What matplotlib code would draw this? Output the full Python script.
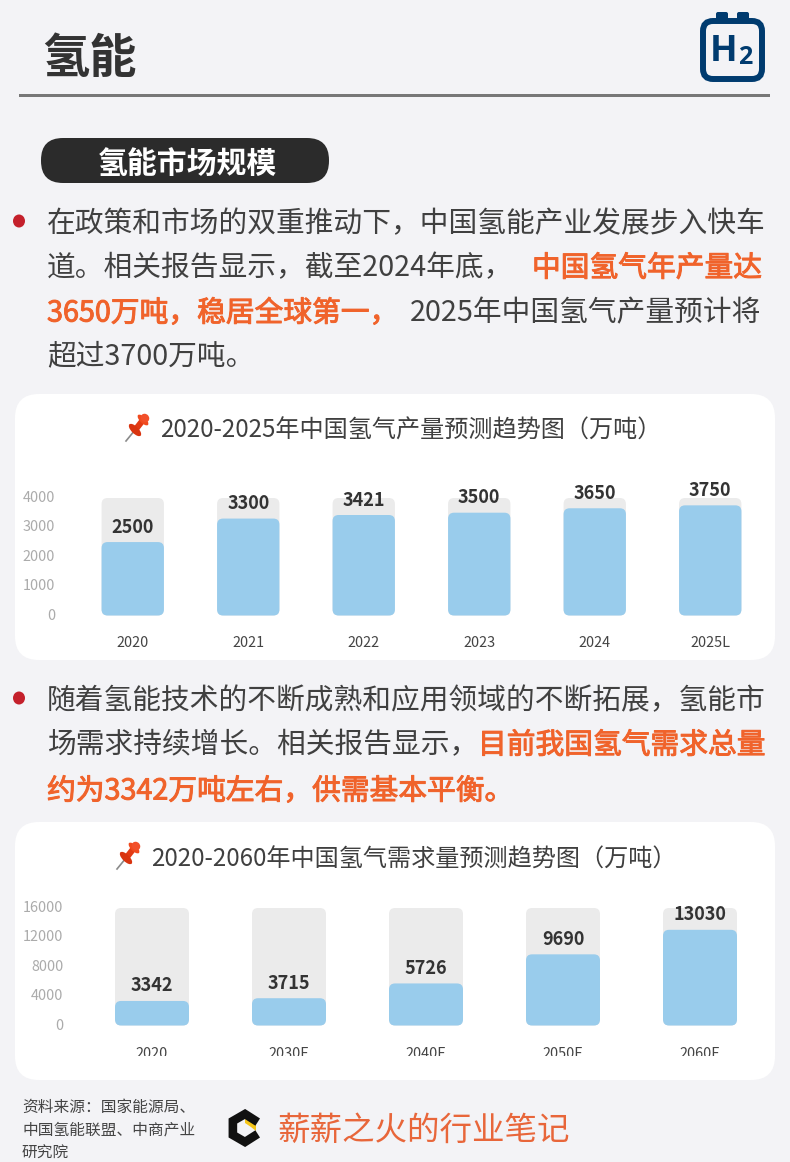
import matplotlib
matplotlib.use('Agg')
import matplotlib.pyplot as plt
from matplotlib.patches import FancyBboxPatch, Ellipse, Polygon, Rectangle
from matplotlib.transforms import Bbox, TransformedBbox, ScaledTranslation
import matplotlib.patheffects as pe
import numpy as np

plt.rcParams['font.family'] = ['Noto Sans CJK SC', 'DejaVu Sans']

# chart data
supply_years = ['2020', '2021', '2022', '2023', '2024', '2025L']
supply_values = [2500, 3300, 3421, 3500, 3650, 3750]
supply_ticks = [0, 1000, 2000, 3000, 4000]

demand_years = ['2020', '2030F', '2040F', '2050F', '2060F']
demand_values = [3342, 3715, 5726, 9690, 13030]
demand_ticks = [0, 4000, 8000, 12000, 16000]

supply_title = '2020-2025年中国氢气产量预测趋势图（万吨）'
demand_title = '2020-2060年中国氢气需求量预测趋势图（万吨）'

BG = '#F3F3F6'
DARK = '#404040'
ORANGE = '#F0632B'
BLUE = '#99CCEC'
GREY = '#EBEBEB'
NAVY = '#003B6F'
W, H = 790, 1162

fig = plt.figure(figsize=(W / 100, H / 100), dpi=100, facecolor=BG)

# whole page axes, units are pixels
page = fig.add_axes([0, 0, 1, 1])
page.set_xlim(0, W)
page.set_ylim(H, 0)
page.axis('off')


def card(x0, y0, x1, y1, r=24):
    page.add_patch(FancyBboxPatch((x0 + r, y0 + r), x1 - x0 - 2 * r, y1 - y0 - 2 * r,
                                  boxstyle='round,pad=%d,rounding_size=%d' % (r, r),
                                  fc='white', ec='none'))


def draw_pin(dx, dy):
    page.plot([126 + dx, 135 + dx], [441 + dy, 430 + dy], color='#8A8A8A', lw=1.2, zorder=3)
    page.plot([136 + dx, 143 + dx], [429 + dy, 420 + dy], color='#E23A14', lw=4.4,
              solid_capstyle='butt', zorder=3)
    page.add_patch(Ellipse((135 + dx, 430 + dy), 16, 7, angle=45, fc='#D9340F', ec='none', zorder=3))
    page.add_patch(Ellipse((143 + dx, 420 + dy), 14, 6, angle=45, fc='#F04A1E', ec='none', zorder=3))
    page.add_patch(Ellipse((145 + dx, 418 + dy), 9, 8, angle=45, fc='#F2502A', ec='none', zorder=3))


def bullet(y):
    page.add_patch(Ellipse((19, y), 12, 13, fc='#C4202B', ec='none'))


def body(x, y, s, color=DARK, heavy=False):
    t = page.text(x, y + 2.5, s, fontsize=20.7, color=color, ha='left', va='center')
    if heavy:
        # no medium weight is picked up, so thicken the regular one a little
        t.set_path_effects([pe.withStroke(linewidth=0.7, foreground=color)])


def bars(rect, cats, values, ticks, label_pad=14.5, clip_labels=False):
    x0, y0, x1, y1 = rect  # pixels, top-down
    ax = fig.add_axes([x0 / W, 1 - y1 / H, (x1 - x0) / W, (y1 - y0) / H])
    ax.patch.set_alpha(0)
    n = len(cats)
    ax.set_xlim(-0.5, n - 0.5)
    ax.set_ylim(0, ticks[-1])
    for s in ax.spines.values():
        s.set_visible(False)
    px_x = (x1 - x0) / n
    px_y = (y1 - y0) / ticks[-1]
    aspect = px_x / px_y
    r = 6 / px_x
    w = 0.54

    def rounded(i, v, color, z):
        ax.add_patch(FancyBboxPatch((i - w / 2 + r, r * aspect), w - 2 * r, v - 2 * r * aspect,
                                    boxstyle='round,pad=%f,rounding_size=%f' % (r, r),
                                    mutation_aspect=aspect, fc=color, ec='none', zorder=z))

    for i, v in enumerate(values):
        rounded(i, ticks[-1], GREY, 2)
        rounded(i, v, BLUE, 3)
        ax.annotate(str(v), (i, v), xytext=(0, 10.8), textcoords='offset points',
                    ha='center', va='center', fontsize=13, weight='bold',
                    color='#333333', zorder=4)

    ax.set_xticks(range(n))
    ax.set_xticklabels(cats, fontsize=10.4, color='#444444')
    ax.set_yticks(ticks)
    ax.set_yticklabels([str(t) for t in ticks], fontsize=10.4, color='#ABABAB')
    ax.tick_params(axis='x', length=0, pad=label_pad)
    ax.tick_params(axis='y', length=0, pad=14.4)
    up = ScaledTranslation(0, 1.5 / 100, fig.dpi_scale_trans)
    for lab in ax.get_yticklabels():
        lab.set_transform(lab.get_transform() + up)
    if clip_labels:
        # the labels of the lower chart are cut off at the bottom
        box = TransformedBbox(Bbox([[0, 1 - 1056 / H], [1, 1]]), fig.transFigure)
        for lab in ax.get_xticklabels():
            lab.set_clip_on(True)
            lab.set_clip_box(box)
    return ax


# header
page.text(42, 59, '氢能', fontsize=34, weight='bold', color='#333333', ha='left', va='center')
page.add_patch(Rectangle((19, 94), 751, 3, fc='#777777', ec='none'))

# H2 icon
for tx in (716, 737):
    page.add_patch(FancyBboxPatch((tx + 2, 14), 8, 8, boxstyle='round,pad=2,rounding_size=2',
                                  fc=NAVY, ec='none'))
page.add_patch(FancyBboxPatch((713, 31), 39, 38, boxstyle='round,pad=10,rounding_size=10',
                              fc=BG, ec=NAVY, lw=4.3))
page.text(724, 52, 'H', fontsize=26, weight='bold', color=NAVY, ha='center', va='center',
          family='Open Sans')
page.text(745, 57, '2', fontsize=18, weight='bold', color=NAVY, ha='center', va='center',
          family='Open Sans')

# section pill
page.add_patch(FancyBboxPatch((63, 160), 244, 1, boxstyle='round,pad=22,rounding_size=22',
                              fc='#2B2B2B', ec='none'))
page.text(187, 164, '氢能市场规模', fontsize=21.5, weight='bold', color='white',
          ha='center', va='center')

# first paragraph
bullet(221)
body(47, 222, '在政策和市场的双重推动下，中国氢能产业发展步入快车')
body(47, 266, '道。相关报告显示，截至2024年底，')
body(532, 266, '中国氢气年产量达', ORANGE, True)
body(47, 311, '3650万吨，稳居全球第一，', ORANGE, True)
body(410, 311, '2025年中国氢气产量预计将')
body(47, 354, '超过3700万吨。')

# second paragraph
bullet(698)
body(47, 699, '随着氢能技术的不断成熟和应用领域的不断拓展，氢能市')
body(47, 743, '场需求持续增长。相关报告显示，')
body(478, 743, '目前我国氢气需求总量', ORANGE, True)
body(47, 789, '约为3342万吨左右，供需基本平衡。', ORANGE, True)

# cards and chart titles
card(15, 394, 775, 660)
card(15, 822, 775, 1080)
draw_pin(0, 0)
draw_pin(-9, 428)
page.text(160, 431, supply_title, fontsize=17.4, color=DARK, ha='left', va='center')
page.text(151, 860, demand_title, fontsize=17.4, color=DARK, ha='left', va='center')

bars((75, 498, 768, 615.5), supply_years, supply_values, supply_ticks)
bars((83.5, 908, 768.5, 1025.5), demand_years, demand_values, demand_ticks,
     label_pad=15.5, clip_labels=True)

# footer
for y, s in zip((1107, 1130, 1153), ('资料来源：国家能源局、', '中国氢能联盟、中商产业', '研究院')):
    page.text(22, y, s, fontsize=11.3, color='#444444', ha='left', va='center')

ang = np.deg2rad([25, 90, 150, 210, 270, 335])
page.plot(245 + 14 * np.cos(ang), 1128 - 14 * np.sin(ang), color='#111111', lw=6.2,
          solid_joinstyle='miter', solid_capstyle='butt')
page.add_patch(Polygon([[245, 1117], [256, 1123], [256, 1131], [251, 1127], [245, 1123]],
                       fc='#F5C518', ec='none'))
page.text(277, 1131, '薪薪之火的行业笔记', fontsize=23.4, color='#E8663A',
          ha='left', va='center')

fig.savefig('out.png', dpi=100, facecolor=BG)
